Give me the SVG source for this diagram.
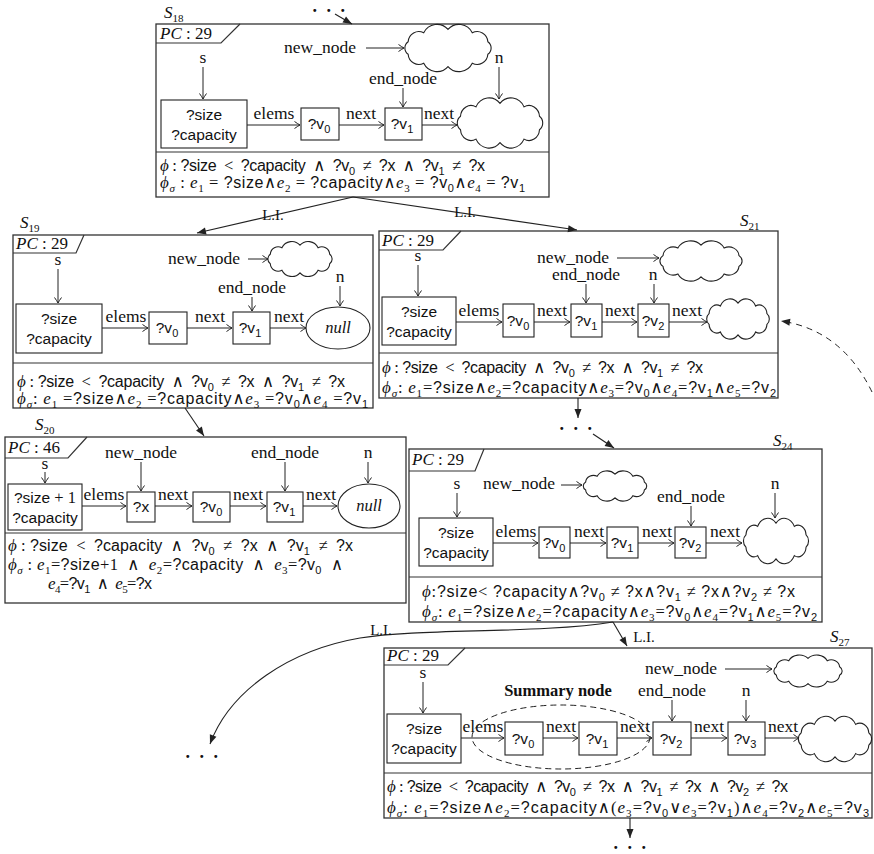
<svg xmlns="http://www.w3.org/2000/svg" width="874" height="854" viewBox="0 0 874 854">
<defs>
<style>
.st{fill:none;stroke:#333;stroke-width:1.3}
.nd{fill:#fff;stroke:#222;stroke-width:1.1}
.ln{fill:none;stroke:#333;stroke-width:1.2}
.ar{fill:none;stroke:#222;stroke-width:1;marker-end:url(#a)}
.af{fill:none;stroke:#222;stroke-width:1.1;marker-end:url(#f)}
.cl{fill:#fff;stroke:#222;stroke-width:1.1;vector-effect:non-scaling-stroke}
text{fill:#111}
.lb{font-family:"Liberation Serif","DejaVu Serif",serif;font-size:17.5px;text-anchor:middle}
.sv{font-family:"Liberation Sans","DejaVu Sans",sans-serif;font-size:15.5px;text-anchor:middle}
.f{font-family:"Liberation Sans","DejaVu Sans",sans-serif;font-size:16px}
.m{font-family:"Liberation Serif","DejaVu Serif",serif;font-style:italic;font-size:17px}
.r{font-family:"Liberation Serif","DejaVu Serif",serif;font-size:16.5px}
.sb{font-size:11px;baseline-shift:-3.5px;font-style:normal}
.it{font-style:italic}
.nul{font-family:"Liberation Serif","DejaVu Serif",serif;font-style:italic;font-size:16.5px;text-anchor:middle}
.pc{font-family:"Liberation Serif","DejaVu Serif",serif;font-size:17px}
.bd{font-family:"Liberation Serif","DejaVu Serif",serif;font-size:16.5px;font-weight:bold;text-anchor:middle}
.dots{font-family:"Liberation Serif","DejaVu Serif",serif;font-size:18px;letter-spacing:2.5px;text-anchor:middle;font-weight:bold}
.li{font-family:"Liberation Serif","DejaVu Serif",serif;font-size:15px;text-anchor:middle}
</style>
<marker id="a" viewBox="-7 -5 8 10" refX="0" refY="0" markerWidth="8" markerHeight="10" orient="auto" markerUnits="userSpaceOnUse"><path d="M-5.5-3.5Q-2-1 0 0Q-2 1-5.5 3.5" fill="none" stroke="#222" stroke-width="1"/></marker>
<marker id="f" viewBox="-10 -5 11 10" refX="0" refY="0" markerWidth="11" markerHeight="10" orient="auto" markerUnits="userSpaceOnUse"><path d="M-9-3.5L0 0L-9 3.5Z" fill="#222"/></marker>
<path id="cloud" class="cl" d="M-37.6 5.8A7 7 0 0 1-37.6-5.8A10 10 0 0 1-22.9-13.9A14 14 0 0 1 0-17A14 14 0 0 1 22.9-13.9A10 10 0 0 1 37.6-5.8A7 7 0 0 1 37.6 5.8A10 10 0 0 1 22.9 13.9A14 14 0 0 1 0 17A14 14 0 0 1-22.9 13.9A10 10 0 0 1-37.6 5.8Z"/>
</defs>
<rect width="874" height="854" fill="#fff"/>

<!-- S18 -->
<g id="S18">
<text x="164" y="18" class="m">S<tspan class="sb">18</tspan></text>
<rect x="156" y="24" width="393" height="173" class="st"/>
<line x1="156" y1="152" x2="549" y2="152" class="ln"/>
<polyline points="156,43 221,43 240,24" class="ln"/>
<text x="160" y="39" class="pc"><tspan class="it">PC</tspan> : 29</text>
<text x="320" y="53" class="lb">new_node</text>
<line x1="366" y1="48" x2="404" y2="48" class="ar"/>
<use href="#cloud" transform="translate(448,48) scale(1.06,1.09)"/>
<text x="499" y="63" class="lb">n</text>
<line x1="499" y1="67" x2="499" y2="99" class="ar"/>
<text x="203" y="63" class="lb">s</text>
<line x1="203" y1="67" x2="203" y2="99" class="ar"/>
<rect x="161" y="100" width="86" height="48" class="nd"/>
<text x="204" y="120" class="sv">?size</text>
<text x="204" y="140" class="sv">?capacity</text>
<text x="274" y="119" class="lb">elems</text>
<line x1="247" y1="125" x2="300" y2="125" class="ar"/>
<rect x="301" y="108" width="38" height="32" class="nd"/>
<text x="319" y="129" class="sv">?v<tspan class="sb">0</tspan></text>
<text x="361" y="119" class="lb">next</text>
<line x1="339" y1="125" x2="384" y2="125" class="ar"/>
<rect x="385" y="108" width="37" height="32" class="nd"/>
<text x="402" y="129" class="sv">?v<tspan class="sb">1</tspan></text>
<text x="403" y="84" class="lb">end_node</text>
<line x1="403" y1="88" x2="403" y2="107" class="ar"/>
<text x="439" y="119" class="lb">next</text>
<line x1="422" y1="125" x2="457" y2="125" class="ar"/>
<use href="#cloud" transform="translate(500,123) scale(1.05,1.16)"/>
<text x="160" y="171" class="f" textLength="325" lengthAdjust="spacing"><tspan class="m">ϕ</tspan><tspan class="r"> : </tspan>?size<tspan class="r"> &#8197;&lt;&#8197; </tspan>?capacity<tspan class="r"> &#8197;∧&#8197; </tspan>?v<tspan class="sb">0</tspan><tspan class="r"> &#8197;≠&#8197; </tspan>?x<tspan class="r"> &#8197;∧&#8197; </tspan>?v<tspan class="sb">1</tspan><tspan class="r"> &#8197;≠&#8197; </tspan>?x</text>
<text x="160" y="188" class="f" textLength="365" lengthAdjust="spacing"><tspan class="m">ϕ<tspan class="sb it">σ</tspan></tspan><tspan class="r"> : </tspan><tspan class="m">e<tspan class="sb">1</tspan></tspan><tspan class="r"> = </tspan>?size<tspan class="r">∧</tspan><tspan class="m">e<tspan class="sb">2</tspan></tspan><tspan class="r"> = </tspan>?capacity<tspan class="r">∧</tspan><tspan class="m">e<tspan class="sb">3</tspan></tspan><tspan class="r"> = </tspan>?v<tspan class="sb">0</tspan><tspan class="r">∧</tspan><tspan class="m">e<tspan class="sb">4</tspan></tspan><tspan class="r"> = </tspan>?v<tspan class="sb">1</tspan></text>
</g>

<!-- S19 -->
<g id="S19">
<text x="20" y="228" class="m">S<tspan class="sb">19</tspan></text>
<rect x="13" y="235" width="360" height="173" class="st"/>
<line x1="13" y1="363" x2="373" y2="363" class="ln"/>
<polyline points="13,253 76,253 84,235" class="ln"/>
<text x="16" y="249" class="pc"><tspan class="it">PC</tspan> : 29</text>
<text x="58" y="265" class="lb">s</text>
<line x1="58" y1="269" x2="58" y2="303" class="ar"/>
<rect x="16" y="304" width="86" height="49" class="nd"/>
<text x="59" y="324" class="sv">?size</text>
<text x="59" y="344" class="sv">?capacity</text>
<text x="126" y="322" class="lb">elems</text>
<line x1="102" y1="328" x2="148" y2="328" class="ar"/>
<rect x="149" y="312" width="38" height="32" class="nd"/>
<text x="167" y="333" class="sv">?v<tspan class="sb">0</tspan></text>
<text x="210" y="322" class="lb">next</text>
<line x1="187" y1="328" x2="232" y2="328" class="ar"/>
<rect x="233" y="312" width="37" height="32" class="nd"/>
<text x="250" y="333" class="sv">?v<tspan class="sb">1</tspan></text>
<text x="252" y="293" class="lb">end_node</text>
<line x1="252" y1="297" x2="252" y2="311" class="ar"/>
<text x="289" y="322" class="lb">next</text>
<line x1="270" y1="328" x2="306" y2="328" class="ar"/>
<ellipse cx="338" cy="328" rx="32" ry="21" class="nd"/>
<text x="338" y="333" class="nul">null</text>
<text x="204" y="264" class="lb">new_node</text>
<line x1="248" y1="259" x2="268" y2="259" class="ar"/>
<use href="#cloud" transform="translate(300,259) scale(0.79,0.81)"/>
<text x="340" y="282" class="lb">n</text>
<line x1="340" y1="286" x2="340" y2="306" class="ar"/>
<text x="17" y="387" class="f" textLength="328" lengthAdjust="spacing"><tspan class="m">ϕ</tspan><tspan class="r"> : </tspan>?size<tspan class="r"> &#8197;&lt;&#8197; </tspan>?capacity<tspan class="r"> &#8197;∧&#8197; </tspan>?v<tspan class="sb">0</tspan><tspan class="r"> &#8197;≠&#8197; </tspan>?x<tspan class="r"> &#8197;∧&#8197; </tspan>?v<tspan class="sb">1</tspan><tspan class="r"> &#8197;≠&#8197; </tspan>?x</text>
<text x="17" y="404" class="f" textLength="351" lengthAdjust="spacing"><tspan class="m">ϕ<tspan class="sb it">σ</tspan></tspan><tspan class="r">: </tspan><tspan class="m">e<tspan class="sb">1</tspan></tspan><tspan class="r"> =</tspan>?size<tspan class="r">∧</tspan><tspan class="m">e<tspan class="sb">2</tspan></tspan><tspan class="r"> =</tspan>?capacity<tspan class="r">∧</tspan><tspan class="m">e<tspan class="sb">3</tspan></tspan><tspan class="r"> =</tspan>?v<tspan class="sb">0</tspan><tspan class="r">∧</tspan><tspan class="m">e<tspan class="sb">4</tspan></tspan><tspan class="r"> =</tspan>?v<tspan class="sb">1</tspan></text>
</g>

<!-- S21 -->
<g id="S21">
<text x="740" y="226" class="m">S<tspan class="sb">21</tspan></text>
<rect x="379" y="231" width="399" height="167" class="st"/>
<line x1="379" y1="353" x2="778" y2="353" class="ln"/>
<polyline points="379,250 443,250 461,231" class="ln"/>
<text x="382" y="246" class="pc"><tspan class="it">PC</tspan> : 29</text>
<text x="418" y="261" class="lb">s</text>
<line x1="418" y1="265" x2="418" y2="296" class="ar"/>
<rect x="382" y="297" width="74" height="48" class="nd"/>
<text x="419" y="317" class="sv">?size</text>
<text x="419" y="337" class="sv">?capacity</text>
<text x="479" y="316" class="lb">elems</text>
<line x1="456" y1="322" x2="502" y2="322" class="ar"/>
<rect x="503" y="304" width="31" height="33" class="nd"/>
<text x="518" y="326" class="sv">?v<tspan class="sb">0</tspan></text>
<text x="552" y="316" class="lb">next</text>
<line x1="534" y1="322" x2="570" y2="322" class="ar"/>
<rect x="571" y="304" width="31" height="33" class="nd"/>
<text x="586" y="326" class="sv">?v<tspan class="sb">1</tspan></text>
<text x="620" y="316" class="lb">next</text>
<line x1="602" y1="322" x2="637" y2="322" class="ar"/>
<rect x="638" y="304" width="31" height="33" class="nd"/>
<text x="653" y="326" class="sv">?v<tspan class="sb">2</tspan></text>
<text x="687" y="316" class="lb">next</text>
<line x1="669" y1="322" x2="707" y2="322" class="ar"/>
<use href="#cloud" transform="translate(738,319) scale(0.77,0.93)"/>
<text x="573" y="263" class="lb">new_node</text>
<line x1="617" y1="258" x2="659" y2="258" class="ar"/>
<use href="#cloud" transform="translate(701,261) scale(1.01,0.93)"/>
<text x="586" y="280" class="lb">end_node</text>
<line x1="586" y1="284" x2="586" y2="303" class="ar"/>
<text x="653" y="280" class="lb">n</text>
<line x1="654" y1="284" x2="654" y2="303" class="ar"/>
<text x="382" y="373" class="f" textLength="321" lengthAdjust="spacing"><tspan class="m">ϕ</tspan><tspan class="r"> : </tspan>?size<tspan class="r"> &#8197;&lt;&#8197; </tspan>?capacity<tspan class="r"> &#8197;∧&#8197; </tspan>?v<tspan class="sb">0</tspan><tspan class="r"> &#8197;≠&#8197; </tspan>?x<tspan class="r"> &#8197;∧&#8197; </tspan>?v<tspan class="sb">1</tspan><tspan class="r"> &#8197;≠&#8197; </tspan>?x</text>
<text x="382" y="393" class="f" textLength="394" lengthAdjust="spacing"><tspan class="m">ϕ<tspan class="sb it">σ</tspan></tspan><tspan class="r">: </tspan><tspan class="m">e<tspan class="sb">1</tspan></tspan><tspan class="r">=</tspan>?size<tspan class="r">∧</tspan><tspan class="m">e<tspan class="sb">2</tspan></tspan><tspan class="r">=</tspan>?capacity<tspan class="r">∧</tspan><tspan class="m">e<tspan class="sb">3</tspan></tspan><tspan class="r">=</tspan>?v<tspan class="sb">0</tspan><tspan class="r">∧</tspan><tspan class="m">e<tspan class="sb">4</tspan></tspan><tspan class="r">=</tspan>?v<tspan class="sb">1</tspan><tspan class="r">∧</tspan><tspan class="m">e<tspan class="sb">5</tspan></tspan><tspan class="r">=</tspan>?v<tspan class="sb">2</tspan></text>
</g>

<!-- S20 -->
<g id="S20">
<text x="35" y="430" class="m">S<tspan class="sb">20</tspan></text>
<rect x="5" y="437" width="401" height="166" class="st"/>
<line x1="5" y1="533" x2="406" y2="533" class="ln"/>
<polyline points="5,458 68,458 87,437" class="ln"/>
<text x="8" y="453" class="pc"><tspan class="it">PC</tspan> : 46</text>
<text x="45" y="469" class="lb">s</text>
<line x1="45" y1="472" x2="45" y2="483" class="ar"/>
<rect x="8" y="484" width="74" height="46" class="nd"/>
<text x="45" y="503" class="sv">?size<tspan class="r"> + 1</tspan></text>
<text x="45" y="523" class="sv">?capacity</text>
<text x="104" y="500" class="lb">elems</text>
<line x1="82" y1="506" x2="126" y2="506" class="ar"/>
<rect x="127" y="492" width="28" height="30" class="nd"/>
<text x="141" y="512" class="sv">?x</text>
<text x="141" y="458" class="lb">new_node</text>
<line x1="141" y1="462" x2="141" y2="491" class="ar"/>
<text x="173" y="500" class="lb">next</text>
<line x1="155" y1="506" x2="192" y2="506" class="ar"/>
<rect x="193" y="492" width="37" height="30" class="nd"/>
<text x="211" y="512" class="sv">?v<tspan class="sb">0</tspan></text>
<text x="248" y="500" class="lb">next</text>
<line x1="230" y1="506" x2="266" y2="506" class="ar"/>
<rect x="267" y="492" width="36" height="30" class="nd"/>
<text x="284" y="512" class="sv">?v<tspan class="sb">1</tspan></text>
<text x="285" y="458" class="lb">end_node</text>
<line x1="285" y1="462" x2="285" y2="491" class="ar"/>
<text x="321" y="500" class="lb">next</text>
<line x1="303" y1="506" x2="337" y2="506" class="ar"/>
<ellipse cx="369" cy="506" rx="31" ry="22" class="nd"/>
<text x="369" y="511" class="nul">null</text>
<text x="368" y="458" class="lb">n</text>
<line x1="368" y1="462" x2="368" y2="483" class="ar"/>
<text x="8" y="551" class="f" textLength="345" lengthAdjust="spacing"><tspan class="m">ϕ</tspan><tspan class="r"> : </tspan>?size<tspan class="r"> &#8197;&lt;&#8197; </tspan>?capacity<tspan class="r"> &#8197;∧&#8197; </tspan>?v<tspan class="sb">0</tspan><tspan class="r"> &#8197;≠&#8197; </tspan>?x<tspan class="r"> &#8197;∧&#8197; </tspan>?v<tspan class="sb">1</tspan><tspan class="r"> &#8197;≠&#8197; </tspan>?x</text>
<text x="8" y="570" class="f" textLength="335" lengthAdjust="spacing"><tspan class="m">ϕ<tspan class="sb it">σ</tspan></tspan><tspan class="r"> : </tspan><tspan class="m">e<tspan class="sb">1</tspan></tspan><tspan class="r">=</tspan>?size<tspan class="r">+1 &#8197;∧&#8197; </tspan><tspan class="m">e<tspan class="sb">2</tspan></tspan><tspan class="r">=</tspan>?capacity<tspan class="r"> &#8197;∧&#8197; </tspan><tspan class="m">e<tspan class="sb">3</tspan></tspan><tspan class="r">=</tspan>?v<tspan class="sb">0</tspan><tspan class="r"> &#8197;∧</tspan></text>
<text x="48" y="589" class="f" textLength="104" lengthAdjust="spacing"><tspan class="m">e<tspan class="sb">4</tspan></tspan><tspan class="r">=</tspan>?v<tspan class="sb">1</tspan><tspan class="r"> &#8197;∧&#8197; </tspan><tspan class="m">e<tspan class="sb">5</tspan></tspan><tspan class="r">=</tspan>?x</text>
</g>

<!-- S24 -->
<g id="S24">
<text x="773" y="446" class="m">S<tspan class="sb">24</tspan></text>
<rect x="409" y="449" width="413" height="173" class="st"/>
<line x1="409" y1="577" x2="822" y2="577" class="ln"/>
<polyline points="409,471 475,471 484,449" class="ln"/>
<text x="412" y="465" class="pc"><tspan class="it">PC</tspan> : 29</text>
<text x="457" y="489" class="lb">s</text>
<line x1="457" y1="493" x2="457" y2="517" class="ar"/>
<rect x="419" y="518" width="74" height="48" class="nd"/>
<text x="456" y="538" class="sv">?size</text>
<text x="456" y="558" class="sv">?capacity</text>
<text x="516" y="537" class="lb">elems</text>
<line x1="493" y1="543" x2="538" y2="543" class="ar"/>
<rect x="539" y="527" width="31" height="31" class="nd"/>
<text x="554" y="548" class="sv">?v<tspan class="sb">0</tspan></text>
<text x="589" y="537" class="lb">next</text>
<line x1="570" y1="543" x2="606" y2="543" class="ar"/>
<rect x="607" y="527" width="31" height="31" class="nd"/>
<text x="622" y="548" class="sv">?v<tspan class="sb">1</tspan></text>
<text x="657" y="537" class="lb">next</text>
<line x1="638" y1="543" x2="674" y2="543" class="ar"/>
<rect x="675" y="527" width="31" height="31" class="nd"/>
<text x="690" y="548" class="sv">?v<tspan class="sb">2</tspan></text>
<text x="725" y="537" class="lb">next</text>
<line x1="706" y1="543" x2="742" y2="543" class="ar"/>
<use href="#cloud" transform="translate(776,541) scale(0.80,1.05)"/>
<text x="519" y="489" class="lb">new_node</text>
<line x1="561" y1="485" x2="582" y2="485" class="ar"/>
<use href="#cloud" transform="translate(615,486) scale(0.78,0.70)"/>
<text x="691" y="502" class="lb">end_node</text>
<line x1="691" y1="506" x2="691" y2="526" class="ar"/>
<text x="775" y="489" class="lb">n</text>
<line x1="775" y1="493" x2="775" y2="518" class="ar"/>
<text x="422" y="597" class="f" textLength="373" lengthAdjust="spacing"><tspan class="m">ϕ</tspan><tspan class="r">:</tspan>?size<tspan class="r">&lt; </tspan>?capacity<tspan class="r">∧</tspan>?v<tspan class="sb">0</tspan><tspan class="r"> ≠ </tspan>?x<tspan class="r">∧</tspan>?v<tspan class="sb">1</tspan><tspan class="r"> ≠ </tspan>?x<tspan class="r">∧</tspan>?v<tspan class="sb">2</tspan><tspan class="r"> ≠ </tspan>?x</text>
<text x="422" y="617" class="f" textLength="395" lengthAdjust="spacing"><tspan class="m">ϕ<tspan class="sb it">σ</tspan></tspan><tspan class="r">: </tspan><tspan class="m">e<tspan class="sb">1</tspan></tspan><tspan class="r">=</tspan>?size<tspan class="r">∧</tspan><tspan class="m">e<tspan class="sb">2</tspan></tspan><tspan class="r">=</tspan>?capacity<tspan class="r">∧</tspan><tspan class="m">e<tspan class="sb">3</tspan></tspan><tspan class="r">=</tspan>?v<tspan class="sb">0</tspan><tspan class="r">∧</tspan><tspan class="m">e<tspan class="sb">4</tspan></tspan><tspan class="r">=</tspan>?v<tspan class="sb">1</tspan><tspan class="r">∧</tspan><tspan class="m">e<tspan class="sb">5</tspan></tspan><tspan class="r">=</tspan>?v<tspan class="sb">2</tspan></text>
</g>

<!-- S27 -->
<g id="S27">
<text x="830" y="642" class="m">S<tspan class="sb">27</tspan></text>
<rect x="384" y="648" width="488" height="170" class="st"/>
<line x1="384" y1="773" x2="872" y2="773" class="ln"/>
<polyline points="384,665 448,665 465,648" class="ln"/>
<text x="387" y="661" class="pc"><tspan class="it">PC</tspan> : 29</text>
<text x="423" y="678" class="lb">s</text>
<line x1="423" y1="682" x2="423" y2="713" class="ar"/>
<rect x="387" y="714" width="74" height="49" class="nd"/>
<text x="424" y="734" class="sv">?size</text>
<text x="424" y="754" class="sv">?capacity</text>
<ellipse cx="561" cy="737" rx="89" ry="32" fill="none" stroke="#222" stroke-width="1" stroke-dasharray="6,4"/>
<text x="483" y="732" class="lb">elems</text>
<line x1="461" y1="738" x2="504" y2="738" class="ar"/>
<rect x="505" y="722" width="38" height="33" class="nd"/>
<text x="523" y="744" class="sv">?v<tspan class="sb">0</tspan></text>
<text x="561" y="732" class="lb">next</text>
<line x1="543" y1="738" x2="578" y2="738" class="ar"/>
<rect x="579" y="722" width="38" height="33" class="nd"/>
<text x="597" y="744" class="sv">?v<tspan class="sb">1</tspan></text>
<text x="635" y="732" class="lb">next</text>
<line x1="617" y1="738" x2="652" y2="738" class="ar"/>
<rect x="653" y="722" width="38" height="33" class="nd"/>
<text x="671" y="744" class="sv">?v<tspan class="sb">2</tspan></text>
<text x="709" y="732" class="lb">next</text>
<line x1="691" y1="738" x2="727" y2="738" class="ar"/>
<rect x="728" y="722" width="37" height="33" class="nd"/>
<text x="745" y="744" class="sv">?v<tspan class="sb">3</tspan></text>
<text x="783" y="732" class="lb">next</text>
<line x1="765" y1="738" x2="799" y2="738" class="ar"/>
<use href="#cloud" transform="translate(835,739) scale(0.90,1.05)"/>
<text x="681" y="674" class="lb">new_node</text>
<line x1="725" y1="669" x2="772" y2="669" class="ar"/>
<use href="#cloud" transform="translate(808,671) scale(0.84,0.74)"/>
<text x="558" y="696" class="bd">Summary node</text>
<text x="672" y="696" class="lb">end_node</text>
<line x1="672" y1="700" x2="672" y2="721" class="ar"/>
<text x="746" y="696" class="lb">n</text>
<line x1="746" y1="700" x2="746" y2="721" class="ar"/>
<text x="387" y="792" class="f" textLength="401" lengthAdjust="spacing"><tspan class="m">ϕ</tspan><tspan class="r"> : </tspan>?size<tspan class="r"> &#8197;&lt;&#8197; </tspan>?capacity<tspan class="r"> &#8197;∧&#8197; </tspan>?v<tspan class="sb">0</tspan><tspan class="r"> &#8197;≠&#8197; </tspan>?x<tspan class="r"> &#8197;∧&#8197; </tspan>?v<tspan class="sb">1</tspan><tspan class="r"> &#8197;≠&#8197; </tspan>?x<tspan class="r"> &#8197;∧&#8197; </tspan>?v<tspan class="sb">2</tspan><tspan class="r"> &#8197;≠&#8197; </tspan>?x</text>
<text x="387" y="813" class="f" textLength="482" lengthAdjust="spacing"><tspan class="m">ϕ<tspan class="sb it">σ</tspan></tspan><tspan class="r">: </tspan><tspan class="m">e<tspan class="sb">1</tspan></tspan><tspan class="r">=</tspan>?size<tspan class="r">∧</tspan><tspan class="m">e<tspan class="sb">2</tspan></tspan><tspan class="r">=</tspan>?capacity<tspan class="r">∧(</tspan><tspan class="m">e<tspan class="sb">3</tspan></tspan><tspan class="r">=</tspan>?v<tspan class="sb">0</tspan><tspan class="r">∨</tspan><tspan class="m">e<tspan class="sb">3</tspan></tspan><tspan class="r">=</tspan>?v<tspan class="sb">1</tspan><tspan class="r">)∧</tspan><tspan class="m">e<tspan class="sb">4</tspan></tspan><tspan class="r">=</tspan>?v<tspan class="sb">2</tspan><tspan class="r">∧</tspan><tspan class="m">e<tspan class="sb">5</tspan></tspan><tspan class="r">=</tspan>?v<tspan class="sb">3</tspan></text>
</g>

<!-- connectors -->
<g id="connectors">
<text x="330" y="12" class="dots">. . .</text>
<line x1="335" y1="14" x2="352" y2="24" class="af"/>
<line x1="353" y1="197" x2="197" y2="233" class="af"/>
<text x="273" y="220" class="li">L.I.</text>
<line x1="353" y1="197" x2="577" y2="230" class="af"/>
<text x="465" y="217" class="li">L.I.</text>
<line x1="185" y1="408" x2="204" y2="436" class="af"/>
<line x1="578" y1="398" x2="578" y2="418" class="af"/>
<text x="577" y="430" class="dots">. . .</text>
<line x1="593" y1="434" x2="614" y2="448" class="af"/>
<path d="M872 392Q842 330 781 321" fill="none" stroke="#222" stroke-width="1" stroke-dasharray="6,5" marker-end="url(#f)"/>
<line x1="613" y1="622" x2="627" y2="646" class="af"/>
<text x="644" y="642" class="li">L.I.</text>
<path d="M613 622C540 634 420 628 360 638C290 650 230 690 210 744" class="af"/>
<text x="381" y="635" class="li">L.I.</text>
<text x="203" y="758" class="dots">. . .</text>
<line x1="630" y1="818" x2="630" y2="838" class="af"/>
<text x="631" y="849" class="dots">. . .</text>
</g>
</svg>
